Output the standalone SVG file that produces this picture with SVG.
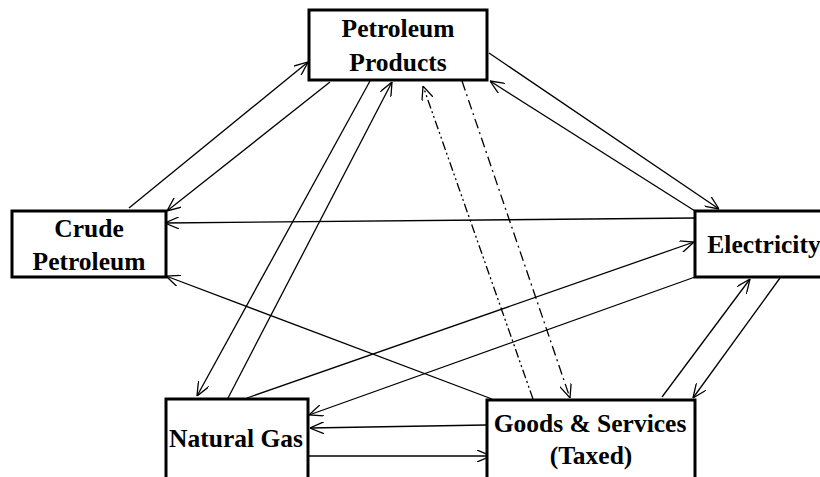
<svg xmlns="http://www.w3.org/2000/svg" width="820" height="477" viewBox="0 0 820 477">
<style>
.box{fill:#fff;stroke:#000;stroke-width:3}
.lbl{font-family:"Liberation Serif","Times New Roman",serif;font-weight:bold;font-size:25.5px;fill:#000;text-anchor:middle}
.e{fill:none;stroke:#000;stroke-width:1.3;marker-end:url(#ah)}
.dd{stroke-dasharray:9,3,2,3,2,3}
.d1{stroke-dasharray:10,4,2,4}
</style>
<defs>
<marker id="ah" viewBox="0 0 14 12" refX="14" refY="6" markerWidth="14" markerHeight="12" markerUnits="userSpaceOnUse" orient="auto">
<path d="M0,0 L14,6 L0,12" fill="none" stroke="#000" stroke-width="1.3"/>
</marker>
</defs>
<rect width="820" height="477" fill="#fff"/>
<g id="connectors">
<line class="e" x1="129" y1="208" x2="308" y2="62"/>
<line class="e" x1="330" y1="82" x2="167" y2="211"/>
<line class="e" x1="489" y1="53" x2="719" y2="209"/>
<line class="e" x1="695" y1="211" x2="490" y2="81"/>
<line class="e" x1="695" y1="218" x2="165" y2="223"/>
<line class="e" x1="492" y1="399" x2="166" y2="276"/>
<line class="e" x1="370" y1="81" x2="197" y2="396"/>
<line class="e" x1="227" y1="400" x2="392" y2="82"/>
<line class="e" x1="247" y1="398" x2="694" y2="242"/>
<line class="e" x1="695" y1="277" x2="309" y2="415"/>
<line class="e" x1="486" y1="425" x2="310" y2="428"/>
<line class="e" x1="309" y1="456" x2="491" y2="456"/>
<line class="e" x1="662" y1="397" x2="750" y2="279"/>
<line class="e" x1="780" y1="278" x2="693" y2="398"/>
<line class="e dd" x1="533" y1="399" x2="423" y2="86"/>
<line class="e d1" x1="462" y1="81" x2="570" y2="398"/>
</g>
<g id="petroleum-products">
<rect class="box" x="309" y="10" width="178" height="70"/>
<text class="lbl" x="398" y="37">Petroleum</text>
<text class="lbl" x="398" y="71">Products</text>
</g>
<g id="crude-petroleum">
<rect class="box" x="12" y="211" width="154" height="66"/>
<text class="lbl" x="89" y="237">Crude</text>
<text class="lbl" x="89" y="270">Petroleum</text>
</g>
<g id="electricity">
<rect class="box" x="695" y="211" width="130" height="66"/>
<text class="lbl" x="764" y="253">Electricity</text>
</g>
<g id="natural-gas">
<rect class="box" x="166" y="399" width="142" height="85"/>
<text class="lbl" x="236" y="447">Natural Gas</text>
</g>
<g id="goods-services">
<rect class="box" x="487" y="400" width="208" height="84"/>
<text class="lbl" x="590" y="432">Goods &amp; Services</text>
<text class="lbl" x="591" y="464">(Taxed)</text>
</g>
</svg>
